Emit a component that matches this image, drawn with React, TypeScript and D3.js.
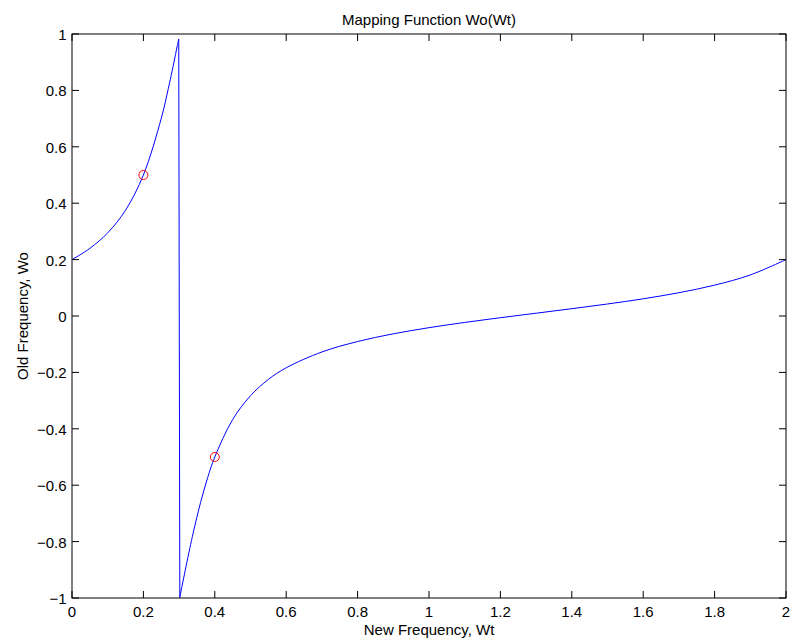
import React from "react";
import * as d3 from "d3";

const wt: number[] = [0, 0.05, 0.1, 0.15, 0.2, 0.25, 0.27, 0.28, 0.285, 0.29, 0.295, 0.299,
  0.302, 0.305, 0.31, 0.315, 0.32, 0.33, 0.34, 0.36, 0.38, 0.4, 0.45, 0.5, 0.55, 0.6, 0.7, 0.8, 0.9,
  1.0, 1.1, 1.2, 1.3, 1.4, 1.5, 1.6, 1.7, 1.8, 1.9, 2.0];
const wo: number[] = [0.2, 0.2399, 0.2948, 0.3752, 0.5002, 0.7007, 0.8077, 0.8663, 0.8967, 0.9274, 0.9588, 0.982,
  -0.9972, -0.9781, -0.9467, -0.9156, -0.8845, -0.8241, -0.7664, -0.662, -0.5732, -0.5, -0.3673, -0.2826, -0.225, -0.1836, -0.1276, -0.0905, -0.0632,
  -0.0414, -0.0228, -0.006, 0.0099, 0.0259, 0.0426, 0.061, 0.0826, 0.1094, 0.1456, 0.2];
const markX: number[] = [0.2, 0.4];
const markY: number[] = [0.5, -0.5];
const xTicks: number[] = [0, 0.2, 0.4, 0.6, 0.8, 1, 1.2, 1.4, 1.6, 1.8, 2];
const yTicks: number[] = [-1, -0.8, -0.6, -0.4, -0.2, 0, 0.2, 0.4, 0.6, 0.8, 1];

const W = 791, H = 640;
const L = 72, R = 786, T = 34, B = 598;
const FONT = "'Liberation Sans', Arial, Helvetica, sans-serif";
const FS = 15;

function fmt(v: number): string {
  const s = String(Math.round(v * 10) / 10);
  return s.replace("-", "\u2212");
}

export default function App() {
  const x = d3.scaleLinear().domain([0, 2]).range([L, R]);
  const y = d3.scaleLinear().domain([-1, 1]).range([B, T]);
  const pts = wt.map((v, i) => [v, wo[i]] as [number, number]);
  const left = pts.filter(p => p[0] < 0.3);
  const right = pts.filter(p => p[0] > 0.3);
  const line = d3.line<[number, number]>().x(d => x(d[0])).y(d => y(d[1])).curve(d3.curveCatmullRom.alpha(0.5));
  const peak = left[left.length - 1];
  const bottom = right[0];
  const tl = 7;
  return (
    <svg width={W} height={H} style={{ position: "absolute", left: 0, top: 0, background: "#fff" }}>
      <rect x={0} y={0} width={W} height={H} fill="#fff" />
      <defs>
        <clipPath id="plot"><rect x={L} y={T} width={R - L} height={B - T} /></clipPath>
      </defs>
      <g clipPath="url(#plot)">
        <path d={line(left) || ""} fill="none" stroke="#0000ff" strokeWidth={1} />
        <line x1={x(peak[0])} y1={y(peak[1])} x2={x(bottom[0])} y2={y(-1)} stroke="#0000ff" strokeWidth={1} />
        <path d={line(right) || ""} fill="none" stroke="#0000ff" strokeWidth={1} />
      </g>
      {markX.map((v, i) => (
        <circle key={i} cx={x(v)} cy={y(markY[i])} r={4.5} fill="none" stroke="#ff0000" strokeWidth={1} />
      ))}
      <rect x={L} y={T} width={R - L} height={B - T} fill="none" stroke="#000" strokeWidth={1} />
      {xTicks.map((v, i) => (
        <g key={"x" + i}>
          <line x1={x(v)} x2={x(v)} y1={B} y2={B - tl} stroke="#000" />
          <line x1={x(v)} x2={x(v)} y1={T} y2={T + tl} stroke="#000" />
          <text x={x(v)} y={617} fontSize={FS} fontFamily={FONT} textAnchor="middle">{fmt(v)}</text>
        </g>
      ))}
      {yTicks.map((v, i) => (
        <g key={"y" + i}>
          <line x1={L} x2={L + tl} y1={y(v)} y2={y(v)} stroke="#000" />
          <line x1={R} x2={R - tl} y1={y(v)} y2={y(v)} stroke="#000" />
          <text x={L - 5.5} y={y(v) + 6} fontSize={FS} fontFamily={FONT} textAnchor="end">{fmt(v)}</text>
        </g>
      ))}
      <text x={(L + R) / 2} y={25} fontSize={FS} fontFamily={FONT} textAnchor="middle">Mapping Function Wo(Wt)</text>
      <text x={(L + R) / 2} y={635} fontSize={FS} fontFamily={FONT} textAnchor="middle">New Frequency, Wt</text>
      <text transform={`translate(28, ${(T + B) / 2}) rotate(-90)`} fontSize={FS} fontFamily={FONT} textAnchor="middle">Old Frequency, Wo</text>
    </svg>
  );
}
